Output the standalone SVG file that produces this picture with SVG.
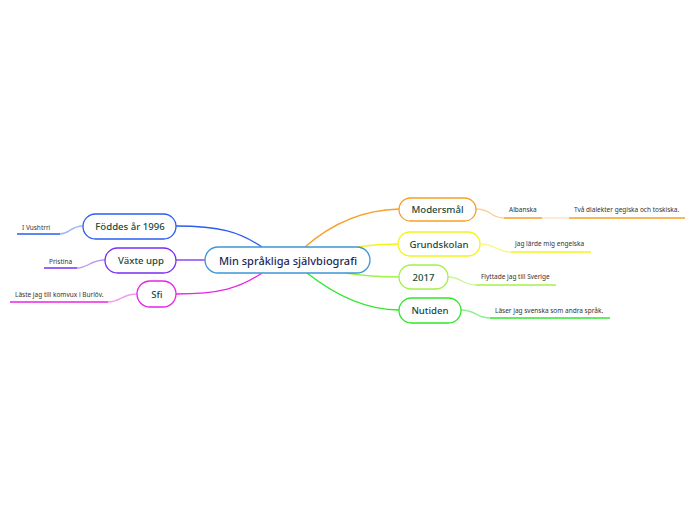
<svg xmlns="http://www.w3.org/2000/svg" width="696" height="520" viewBox="0 0 696 520">
<style>
.node{fill:#fff;stroke-width:1.3}
.t{font-family:"Noto Sans","Open Sans",sans-serif;fill:#174a3c;font-size:9.6px;font-weight:500;text-anchor:middle;dominant-baseline:central}
.c{fill:#1c2a5a;font-size:11px;font-weight:500}
.s{font-family:"Noto Sans","Open Sans",sans-serif;fill:#333;font-size:6.5px;dominant-baseline:central}
.ln{fill:none;stroke-width:1.3}
.ul{fill:none;stroke-width:1.6}
</style>
<rect width="696" height="520" fill="#fff"/>
<g id="connectors">
<path class="ln" stroke="#2a5df0" d="M176,226 C220,226 240,232 262,247"/>
<path class="ln" stroke="#7b2df2" d="M176,260 L205,260"/>
<path class="ln" stroke="#ea22e6" d="M176,294 C220,294 240,288 262,273"/>
<path class="ln" stroke="#f6a023" d="M305,247 C330,225 360,210 399,209"/>
<path class="ln" stroke="#f4f41a" d="M356,247 C370,245 380,244 398,244"/>
<path class="ln" stroke="#a4f04a" d="M345,273 C365,276 380,277 399,277"/>
<path class="ln" stroke="#2ee62a" d="M307,273 C335,295 365,310 399,310"/>
<path class="ln" stroke="#9fb8f8" d="M83,226 C70,226 70,234 60,234"/>
<path class="ln" stroke="#b896f6" d="M105,260 C90,260 88,268 77,268"/>
<path class="ln" stroke="#f29af0" d="M137,294 C122,294 120,302 108,302"/>
<path class="ln" stroke="#fbcf9a" d="M476,209 C492,209 490,218 504,218"/>
<path class="ln" stroke="#fbe0c2" stroke-width="1.6" d="M542,218 L569,218"/>
<path class="ln" stroke="#f8f890" d="M480,244 C496,244 496,252 511,252"/>
<path class="ln" stroke="#c8f59a" d="M448,277 C462,277 462,285 476,285"/>
<path class="ln" stroke="#90ef90" d="M461,310 C476,310 476,318 490,318"/>
</g>
<g id="central">
<rect class="node" x="205" y="247" width="165" height="26" rx="13" stroke="#3d96d8"/>
<text class="t c" x="288" y="260">Min språkliga självbiografi</text>
</g>
<g id="n-fodd">
<rect class="node" x="83" y="214" width="93" height="25" rx="12.5" stroke="#2a5df0"/>
<text class="t" x="130" y="226.5">Föddes år 1996</text>
</g>
<g id="n-vaxte">
<rect class="node" x="105" y="248" width="71" height="25" rx="12.5" stroke="#7b2df2"/>
<text class="t" x="141" y="260.5">Växte upp</text>
</g>
<g id="n-sfi">
<rect class="node" x="137" y="281" width="39" height="26" rx="13" stroke="#ea22e6"/>
<text class="t" x="157" y="294">Sfi</text>
</g>
<g id="n-moders">
<rect class="node" x="399" y="198" width="77" height="23" rx="11.5" stroke="#f6a023"/>
<text class="t" x="437.5" y="209.5">Modersmål</text>
</g>
<g id="n-grund">
<rect class="node" x="398" y="232" width="82" height="24" rx="12" stroke="#f4f41a"/>
<text class="t" x="439" y="244">Grundskolan</text>
</g>
<g id="n-2017">
<rect class="node" x="399" y="265" width="49" height="24" rx="12" stroke="#a4f04a"/>
<text class="t" x="423.5" y="277">2017</text>
</g>
<g id="n-nutiden">
<rect class="node" x="399" y="298" width="62" height="25" rx="12.5" stroke="#2ee62a"/>
<text class="t" x="430" y="310.5">Nutiden</text>
</g>
<g id="c-vushtrri">
<path class="ul" stroke="#2a5df0" d="M17,234 L60,234"/>
<text class="s" x="22" y="227">I Vushtrri</text>
</g>
<g id="c-pristina">
<path class="ul" stroke="#7b2df2" d="M44,268 L77,268"/>
<text class="s" x="49" y="261">Pristina</text>
</g>
<g id="c-komvux">
<path class="ul" stroke="#ea22e6" d="M10,302 L108,302"/>
<text class="s" x="15" y="294">Läste jag till komvux i Burlöv.</text>
</g>
<g id="c-albanska">
<path class="ul" stroke="#f6a023" d="M504,218 L542,218"/>
<text class="s" x="509" y="209.5">Albanska</text>
</g>
<g id="c-tva">
<path class="ul" stroke="#f6a023" d="M569,218 L685,218"/>
<text class="s" x="574" y="209.5">Två dialekter gegiska och toskiska.</text>
</g>
<g id="c-engelska">
<path class="ul" stroke="#f4f41a" d="M511,252 L591,252"/>
<text class="s" x="515" y="243.5">Jag lärde mig engelska</text>
</g>
<g id="c-sverige">
<path class="ul" stroke="#a4f04a" d="M476,285 L556,285"/>
<text class="s" x="481" y="276.5">Flyttade jag till Sverige</text>
</g>
<g id="c-svenska">
<path class="ul" stroke="#2ee62a" d="M490,318 L610,318"/>
<text class="s" x="495" y="310">Läser jag svenska som andra språk.</text>
</g>
</svg>
